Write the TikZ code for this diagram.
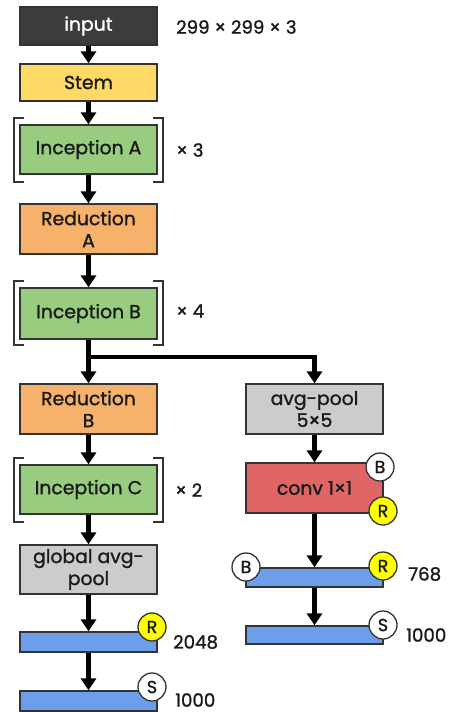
\documentclass[tikz,border=0pt]{standalone}
\usepackage{fontspec}
\setmainfont{Poppins}[RawFeature={embolden=1.3}]
\usetikzlibrary{arrows.meta}
\definecolor{bordc}{HTML}{333333}
\definecolor{darkb}{HTML}{3C3C3C}
\definecolor{stemc}{HTML}{FFD966}
\definecolor{incc}{HTML}{98CC7F}
\definecolor{redc}{HTML}{F6B26B}
\definecolor{grayc}{HTML}{CCCCCC}
\definecolor{convc}{HTML}{E06666}
\definecolor{fcc}{HTML}{6D9EEB}
\definecolor{yel}{HTML}{FFFF00}
\definecolor{txt}{HTML}{1A1A1A}
\newcommand{\boxfont}{\fontsize{18.8}{22}\selectfont}
\newcommand{\lblfont}{\fontsize{18.2}{20}\selectfont}
\tikzset{
  box/.style={draw=bordc, line width=1.3pt, minimum width=137pt, inner sep=0pt, align=center, font=\boxfont, text=txt},
  arr/.style={line width=4.5pt, -{Triangle[width=15pt,length=12pt]}},
  brk/.style={line width=1.6pt, draw=bordc},
  badge/.style={circle, draw=bordc, line width=1.3pt, fill=white, minimum size=28pt, inner sep=0pt, font=\fontsize{17.5}{18}\selectfont, text=txt},
  lbl/.style={anchor=west, inner sep=0pt, font=\lblfont, text=txt}
}
\begin{document}
\begin{tikzpicture}[x=1pt,y=-1pt]
\useasboundingbox (0,0) rectangle (454,712);
% left column
\node[box, fill=darkb, text=white, minimum height=38pt] (input) at (88.5,26) {input};
\node[box, fill=stemc, minimum height=37pt] (stem) at (88.5,82.5) {Stem};
\node[box, fill=incc, minimum height=49pt] (incA) at (88.5,149.5) {Inception A};
\node[box, fill=redc, minimum height=50pt] (redA) at (88.5,229) {Reduction\\A};
\node[box, fill=incc, minimum height=51pt] (incB) at (88.5,313.5) {Inception B};
\node[box, fill=redc, minimum height=50pt] (redB) at (88.5,409) {Reduction\\B};
\node[box, fill=incc, minimum height=49pt] (incC) at (88.5,489.5) {Inception C};
\node[box, fill=grayc, minimum height=49pt] (gap) at (88.5,569.5) {global avg-\\pool};
\node[box, fill=fcc, minimum height=20pt] (fcA) at (88.5,642) {};
\node[box, fill=fcc, minimum height=20pt] (fcB) at (88.5,701) {};
% right column
\node[box, fill=grayc, minimum height=50pt] (avgp) at (314.5,409) {avg-pool\\5×5};
\node[box, fill=convc, minimum height=50pt] (conv) at (314.5,488) {conv 1×1};
\node[box, fill=fcc, minimum height=19pt] (fcC) at (314.5,577.5) {};
\node[box, fill=fcc, minimum height=18pt] (fcD) at (314.5,635) {};
% brackets
\draw[brk] (24,118) -- (14,118) -- (14,182) -- (24,182);
\draw[brk] (153,118) -- (163,118) -- (163,182) -- (153,182);
\draw[brk] (24,281) -- (14,281) -- (14,345) -- (24,345);
\draw[brk] (153,281) -- (163,281) -- (163,345) -- (153,345);
\draw[brk] (24,458) -- (14,458) -- (14,522) -- (24,522);
\draw[brk] (153,458) -- (163,458) -- (163,522) -- (153,522);
% labels
\node[lbl] (l1) at (176,27) {299 × 299 × 3};
\node[lbl] (l2) at (176,150) {× 3};
\node[lbl] (l3) at (176,311) {× 4};
\node[lbl] (l4) at (175,490) {× 2};
\node[lbl] (l5) at (173,642) {2048};
\node[lbl] (l6) at (175,700) {1000};
\node[lbl] (l7) at (408,574) {768};
\node[lbl] (l8) at (406,635) {1000};
% connectors
\coordinate (br) at (88.5,357);
\draw[arr] (input) -- (stem);
\draw[arr] (stem) -- (incA);
\draw[arr] (incA) -- (redA);
\draw[arr] (redA) -- (incB);
\draw[arr] (incB) -- (redB);
\draw[line width=4.5pt] (incB.south) -- (br);
\draw[arr] (br) -| (avgp.north);
\draw[arr] (redB) -- (incC);
\draw[arr] (incC) -- (gap);
\draw[arr] (gap) -- (fcA);
\draw[arr] (fcA) -- (fcB);
\draw[arr] (avgp) -- (conv);
\draw[arr] (conv) -- (fcC);
\draw[arr] (fcC) -- (fcD);
% badges
\node[badge] (b1) at (380,467) {B};
\node[badge, fill=yel] (r1) at (383,511) {R};
\node[badge] (b2) at (246,567) {B};
\node[badge, fill=yel] (r2) at (383,566) {R};
\node[badge] (s1) at (383,625) {S};
\node[badge, fill=yel] (r3) at (152,627) {R};
\node[badge] (s2) at (152,687) {S};
\end{tikzpicture}
\end{document}
